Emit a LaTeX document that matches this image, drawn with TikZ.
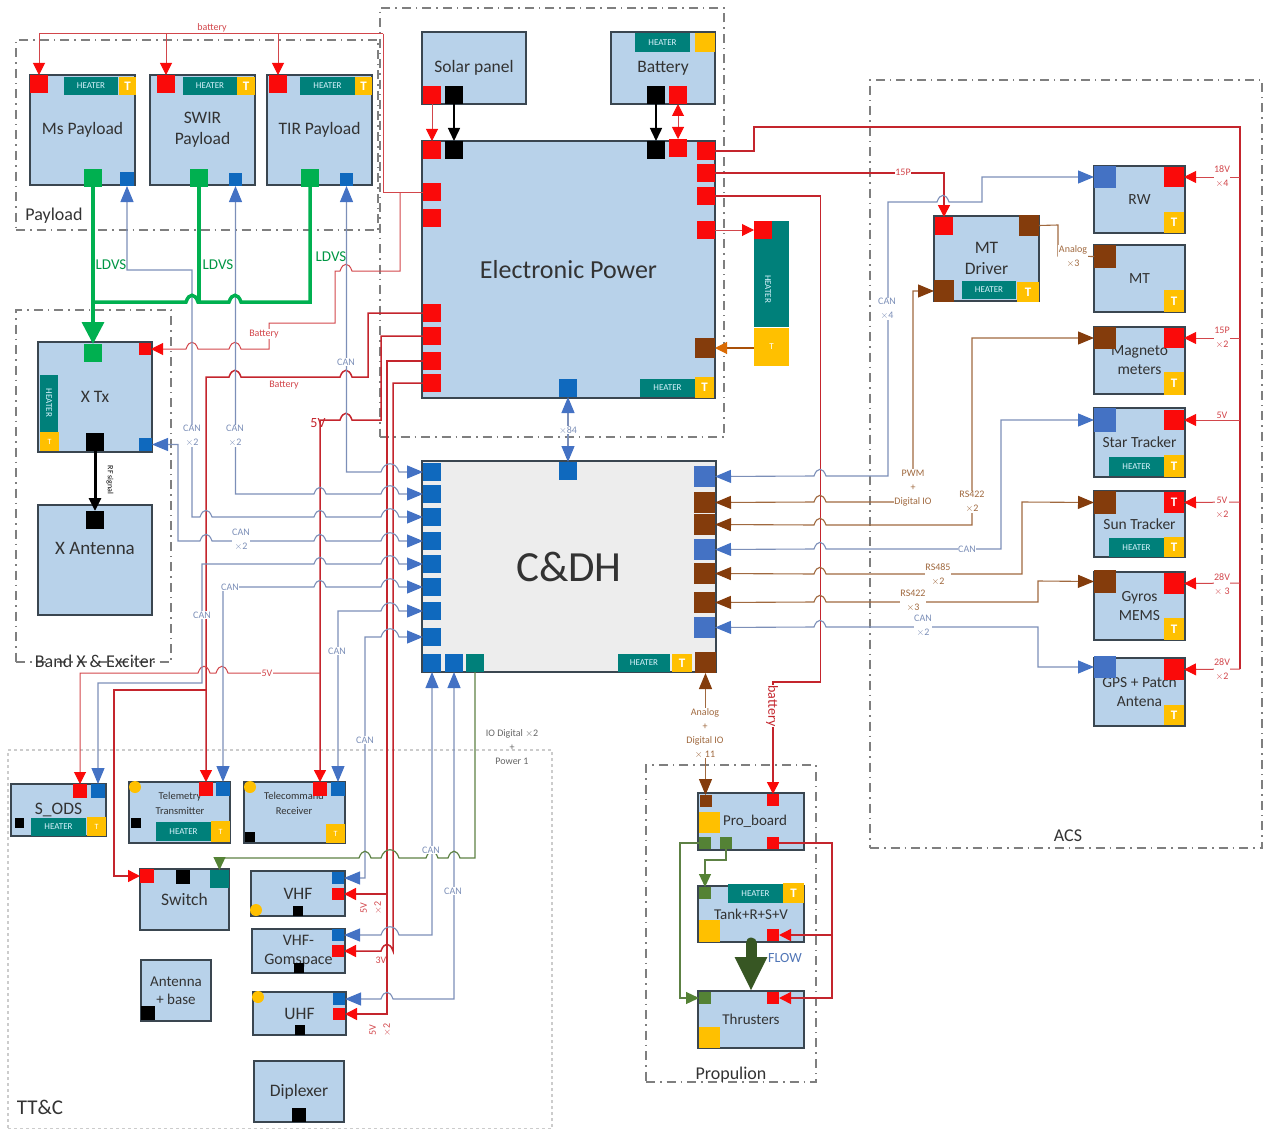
\documentclass[tikz,border=0pt]{standalone}
\usepackage{fontspec}
\setmainfont{Carlito}
\usetikzlibrary{arrows.meta, positioning}

\definecolor{blockblue}{HTML}{B8D2EA}
\definecolor{blockline}{HTML}{3A4650}
\definecolor{cdhgrey}{HTML}{EDEDED}
\definecolor{portred}{HTML}{FA0A0A}
\definecolor{portblue}{HTML}{0F69BE}
\definecolor{lightblue}{HTML}{4472C4}
\definecolor{portbrown}{HTML}{843C0C}
\definecolor{portgreen}{HTML}{00B050}
\definecolor{oldgreen}{HTML}{548235}
\definecolor{darkgreen}{HTML}{375623}
\definecolor{heaterteal}{HTML}{00807A}
\definecolor{tyellow}{HTML}{FFC000}
\definecolor{wirered}{HTML}{D2464B}
\definecolor{wiredark}{HTML}{C4252D}
\definecolor{wireblue}{HTML}{7C8FB8}
\definecolor{wirebrown}{HTML}{A0693F}
\definecolor{groupgrey}{HTML}{7F7F7F}

% wire bump over a crossing line, drawn left to right
\newcommand{\hop}[2]{-- (#1-6,#2) .. controls (#1-3,#2-9) and (#1+3,#2-9) .. (#1+6,#2)}
\newcommand{\hopw}[2]{-- (#1-9,#2) .. controls (#1-6,#2-11) and (#1+6,#2-11) .. (#1+9,#2)}

\begin{document}
\begin{tikzpicture}[x=1pt, y=-1pt,
    wh/.style 2 args={minimum width=#1pt, minimum height=#2pt},
    group/.style={draw=groupgrey, line width=1.1pt, dash pattern=on 9pt off 5pt on 1.5pt off 5pt, anchor=north west, inner sep=0pt, outer sep=0pt},
    grouplabel/.style={text=black!80, font=\fontsize{18}{21}\selectfont, inner sep=0pt},
    block/.style={draw=blockline, fill=blockblue, line width=1.2pt, anchor=north west, align=center, inner sep=0pt, outer sep=0pt, text=black!80, font=\fontsize{17.5}{21}\selectfont},
    acsblock/.style={block, font=\fontsize{15.5}{19}\selectfont},
    propblock/.style={block, font=\fontsize{15}{18}\selectfont},
    blocktext/.style={align=center, inner sep=0pt, text=black!80, font=\fontsize{19}{22}\selectfont},
    port/.style={anchor=north west, inner sep=0pt, outer sep=0pt, minimum size=18pt},
    redport/.style={port, fill=portred},
    blueport/.style={port, fill=portblue},
    lightport/.style={port, fill=lightblue},
    brownport/.style={port, fill=portbrown},
    blackport/.style={port, fill=black},
    greenport/.style={port, fill=portgreen},
    oldport/.style={port, fill=oldgreen, minimum size=12pt},
    tealport/.style={port, fill=heaterteal},
    heater/.style={anchor=north west, fill=heaterteal, inner sep=0pt, outer sep=0pt, text=cyan!15, font=\fontsize{9}{10}\selectfont},
    tsens/.style={anchor=north west, fill=tyellow, inner sep=0pt, outer sep=0pt, text=white, font=\bfseries\fontsize{13}{14}\selectfont},
    yellowdot/.style={circle, fill=tyellow, inner sep=0pt, minimum size=12pt},
    pwr/.style={draw=wirered, line width=1pt, >={Triangle[color=portred, width=12pt, length=12pt]}},
    pwrb/.style={pwr, draw=wiredark, line width=1.5pt},
    can/.style={draw=wireblue, line width=1.1pt, >={Triangle[color=lightblue, width=13pt, length=16pt]}},
    rsline/.style={draw=wirebrown, line width=1.1pt, >={Triangle[color=portbrown, width=13pt, length=16pt]}},
    ioline/.style={draw=oldgreen!80!gray, line width=1.2pt, >={Triangle[color=oldgreen, width=12pt, length=13pt]}},
    ldvs/.style={draw=portgreen, line width=3.5pt, >={Triangle[width=22pt, length=22pt]}},
    rfline/.style={draw=black, line width=1.5pt, >={Triangle[width=12pt, length=13pt]}},
    lab/.style={fill=white, inner sep=0.5pt, align=center, font=\fontsize{10}{14}\selectfont},
    redlab/.style={lab, text=wirered},
    canlab/.style={lab, text=wireblue},
    brownlab/.style={lab, text=wirebrown},
    greenlab/.style={inner sep=0pt, text=portgreen!85!black, font=\fontsize{15}{17}\selectfont}]

    \useasboundingbox (0,0) rectangle (1263,1129);

    % dash-dot subsystem frames
    \node[group, wh={362}{190}] (payload) at (16,40) {};
    \node[group, wh={344}{429}] (eps) at (380,8) {};
    \node[group, wh={155}{352}] (bandx) at (16,310) {};
    \node[group, wh={392}{768}] (acs) at (870,80) {};
    \node[group, wh={170}{317}] (prop) at (646,765) {};
    \node[group, wh={544}{379}, draw=black!20, dash pattern=on 3pt off 3pt] (ttc) at (8,750) {};

    \node[grouplabel] (paylabel) at (54,216) {Payload};
    \node[grouplabel] (bandlabel) at (95,661) {Band X \& Exciter};
    \node[grouplabel] (acslabel) at (1068,836) {ACS};
    \node[grouplabel] (proplabel) at (731,1075) {Propulion};
    \node[grouplabel, font=\fontsize{21}{24}\selectfont] (ttclabel) at (40,1107) {TT\&C};

    % payload
    \node[block, wh={105}{110}] (ms) at (30,75) {Ms Payload};
    \node[block, wh={105}{110}] (swir) [right=15pt of ms] {SWIR\\Payload};
    \node[block, wh={105}{110}] (tir) [right=12pt of swir] {TIR Payload};
    \node[redport] (msR) at (30,75) {};
    \node[heater, wh={54}{18}] (msH) at (64,77) {HEATER};
    \node[tsens, wh={17}{18}] (msT) at (119,77) {T};
    \node[greenport] (msG) at (84,169) {};
    \node[blueport, minimum size=14pt] (msB) at (120,172) {};
    \node[redport] (swiR) at (157,75) {};
    \node[heater, wh={54}{18}] (swiH) at (183,77) {HEATER};
    \node[tsens, wh={18}{18}] (swiT) at (237,77) {T};
    \node[greenport] (swiG) at (190,169) {};
    \node[blueport, minimum size=13pt] (swiB) at (229,173) {};
    \node[redport] (tirR) at (269,75) {};
    \node[heater, wh={55}{18}] (tirH) at (300,77) {HEATER};
    \node[tsens, wh={17}{18}] (tirT) at (355,77) {T};
    \node[greenport] (tirG) at (301,169) {};
    \node[blueport, minimum size=13pt] (tirB) at (340,173) {};

    % band X
    \node[block, wh={114}{110}] (xtx) at (38,342) {X Tx};
    \node[block, wh={114}{110}] (xant) at (38,505) {};
    \node[blocktext] (xanttext) at (95,548) {X Antenna};
    \node[greenport] (xtxG) at (84,344) {};
    \node[redport, minimum size=12pt] (xtxR) at (139,343) {};
    \node[heater, wh={57}{18}, rotate=-90, anchor=center] (xtxH) at (49,403) {HEATER};
    \node[tsens, wh={19}{19}, font=\fontsize{8}{9}\selectfont] (xtxT) at (40,432) {T};
    \node[blackport] (xtxK) at (86,433) {};
    \node[blueport, minimum size=13pt] (xtxB) at (139,438) {};
    \node[blackport] (xantK) at (86,511) {};

    % electronic power
    \node[block, wh={104}{72}] (solar) at (422,32) {Solar panel};
    \node[block, wh={104}{72}] (batt) at (611,32) {Battery};
    \node[block, wh={293}{257}, font=\fontsize{26}{30}\selectfont] (power) at (422,141) {Electronic Power};
    \node[redport] (solR) at (423,86) {};
    \node[blackport] (solK) at (445,86) {};
    \node[heater, wh={55}{19}] (batH) at (635,33) {HEATER};
    \node[tsens, wh={20}{19}] (batT) at (695,33) {};
    \node[blackport] (batK) at (647,86) {};
    \node[redport] (batR) at (669,86) {};
    \node[redport] (epT1) at (423,141) {};
    \node[blackport] (epK1) at (445,141) {};
    \node[blackport] (epK2) at (647,141) {};
    \node[redport] (epT2) at (669,139) {};
    \node[redport] (epR1) at (697,142) {};
    \node[redport] (epR2) at (697,164) {};
    \node[redport] (epR3) at (697,187) {};
    \node[redport] (epR4) at (697,221) {};
    \node[brownport, wh={20}{20}] (epBr) at (695,338) {};
    \node[redport] (epL1) at (423,183) {};
    \node[redport] (epL2) at (423,209) {};
    \node[redport] (epB1) at (423,304) {};
    \node[redport] (epB2) at (423,327) {};
    \node[redport] (epB3) at (423,352) {};
    \node[redport] (epB4) at (423,374) {};
    \node[blueport] (epD) at (559,379) {};
    \node[heater, wh={55}{18}] (epH) at (640,379) {HEATER};
    \node[tsens, wh={19}{21}] (epT) at (695,377) {T};
    \node[heater, wh={35}{106}, anchor=north west] (htr) at (754,221) {};
    \node[heater, rotate=-90] (htrtext) at (771,275) {HEATER};
    \node[tsens, wh={35}{38}, font=\fontsize{9}{10}\selectfont] (htrT) at (754,328) {T};
    \node[redport] (htrR) at (754,221) {};

    % C&DH
    \node[block, wh={294}{211}, fill=cdhgrey, font=\fontsize{43}{48}\selectfont] (cdh) at (422,461) {C\&DH};
    \foreach \name/\ypos in {cdL1/463, cdL2/485, cdL3/508, cdL4/532, cdL5/555, cdL6/578, cdL7/602, cdL8/628}
        \node[blueport] (\name) at (423,\ypos) {};
    \node[blueport] (cdB1) at (423,654) {};
    \node[blueport] (cdB2) at (445,654) {};
    \node[tealport] (cdT) at (466,654) {};
    \node[blueport] (cdD) at (559,462) {};
    \node[heater, wh={52}{18}] (cdH) at (618,654) {HEATER};
    \node[tsens, wh={20}{18}] (cdTs) at (672,654) {T};
    \node[brownport, wh={21}{21}] (cdBr) at (695,652) {};
    \node[lightport, wh={21}{21}] (cdR1) at (694,466) {};
    \node[brownport, wh={21}{21}] (cdR2) at (694,492) {};
    \node[brownport, wh={21}{21}] (cdR3) at (694,514) {};
    \node[lightport, wh={21}{21}] (cdR4) at (694,539) {};
    \node[brownport, wh={21}{21}] (cdR5) at (694,563) {};
    \node[brownport, wh={21}{21}] (cdR6) at (694,592) {};
    \node[lightport, wh={21}{21}] (cdR7) at (694,617) {};

    % ACS
    \node[block, wh={105}{85}] (mtd) at (934,216) {MT\\Driver};
    \node[acsblock, wh={91}{67}] (rw) at (1094,166) {RW};
    \node[acsblock, wh={91}{67}] (mt) [below=12pt of rw] {MT};
    \node[acsblock, wh={91}{67}] (mag) [below=15pt of mt] {Magneto\\meters};
    \node[acsblock, wh={91}{69}] (star) [below=14pt of mag] {Star Tracker};
    \node[acsblock, wh={91}{66}] (sun) [below=14pt of star] {Sun Tracker};
    \node[acsblock, wh={91}{68}] (gyr) [below=15pt of sun] {Gyros\\MEMS};
    \node[acsblock, wh={91}{68}] (gps) [below=18pt of gyr] {GPS + Patch\\Antena};

    \node[redport] (mtdR) at (935,217) {};
    \node[brownport, wh={20}{21}] (mtdB2) at (1019,215) {};
    \node[brownport, wh={20}{22}] (mtdB) at (934,280) {};
    \node[heater, wh={54}{18}] (mtdH) at (962,281) {HEATER};
    \node[tsens, wh={22}{20}] (mtdT) at (1017,282) {T};
    \node[lightport, wh={22}{22}] (rwB) at (1094,166) {};
    \node[redport, wh={20}{20}] (rwR) at (1164,167) {};
    \node[tsens, wh={20}{21}] (rwT) at (1164,212) {T};
    \node[brownport, wh={22}{23}] (mtB) at (1094,245) {};
    \node[tsens, wh={20}{22}] (mtT) at (1164,290) {T};
    \node[brownport, wh={22}{22}] (magB) at (1094,327) {};
    \node[redport, wh={20}{20}] (magR) at (1164,328) {};
    \node[tsens, wh={20}{23}] (magT) at (1164,372) {T};
    \node[lightport, wh={22}{24}] (stB) at (1094,408) {};
    \node[redport, wh={20}{20}] (stR) at (1164,410) {};
    \node[heater, wh={55}{19}] (stH) at (1109,457) {HEATER};
    \node[tsens, wh={20}{22}] (stT) at (1164,455) {T};
    \node[brownport, wh={22}{23}] (sunB) at (1094,491) {};
    \node[tsens, wh={20}{21}, fill=portred] (sunR) at (1164,492) {T};
    \node[heater, wh={55}{19}] (sunH) at (1109,538) {HEATER};
    \node[tsens, wh={20}{20}] (sunT) at (1164,537) {T};
    \node[brownport, wh={22}{23}] (gyrB) at (1094,570) {};
    \node[redport, wh={20}{21}] (gyrR) at (1164,573) {};
    \node[tsens, wh={20}{22}] (gyrT) at (1164,618) {T};
    \node[lightport, wh={22}{22}] (gpsB) at (1094,656) {};
    \node[redport, wh={20}{21}] (gpsR) at (1164,659) {};
    \node[tsens, wh={20}{20}] (gpsT) at (1164,705) {T};

    % propulsion
    \node[propblock, wh={106}{57}] (pro) at (698,793) {\hspace{8pt}Pro\_board};
    \node[propblock, wh={106}{56}] (tank) at (698,886) {Tank+R+S+V};
    \node[propblock, wh={106}{57}] (thr) at (698,991) {Thrusters};
    \node[brownport, minimum size=12pt] (proBr) at (700,795) {};
    \node[redport, minimum size=12pt] (proR) at (767,794) {};
    \node[tsens, wh={21}{21}] (proY) at (699,812) {};
    \node[oldport] (proG1) at (699,837) {};
    \node[oldport] (proG2) at (720,837) {};
    \node[redport, minimum size=12pt] (proR2) at (767,837) {};
    \node[oldport] (tankG) at (699,887) {};
    \node[heater, wh={55}{19}] (tankH) at (728,884) {HEATER};
    \node[tsens, wh={21}{20}] (tankT) at (783,883) {T};
    \node[tsens, wh={21}{22}] (tankY) at (699,920) {};
    \node[redport, minimum size=12pt] (tankR) at (767,929) {};
    \node[oldport] (thrG) at (699,992) {};
    \node[redport, minimum size=12pt] (thrR) at (767,992) {};
    \node[tsens, wh={21}{21}] (thrY) at (699,1027) {};

    % TT&C
    \node[block, wh={95}{52}] (ods) at (11,784) {S\_ODS};
    \node[block, wh={101}{61}] (tlm) at (129,782) {};
    \node[block, wh={101}{61}] (tcm) at (244,782) {};
    \node[blocktext, font=\fontsize{10.5}{15}\selectfont] (tlmtext) at (180,803) {Telemetry\\Transmitter};
    \node[blocktext, font=\fontsize{10.5}{15}\selectfont] (tcmtext) at (294,803) {Telecommand\\Receiver};
    \node[block, wh={89}{61}] (switch) at (140,869) {Switch};
    \node[block, wh={94}{45}] (vhf) at (251,871) {VHF};
    \node[block, wh={93}{44}, font=\fontsize{16}{19}\selectfont] (gom) at (252,929) {VHF-\\Gomspace};
    \node[block, wh={93}{43}] (uhf) at (253,992) {UHF};
    \node[block, wh={70}{61}, font=\fontsize{15}{18}\selectfont] (antb) at (141,960) {Antenna\\+ base};
    \node[block, wh={90}{61}] (dipl) at (254,1061) {Diplexer};

    \node[redport, minimum size=14pt] (odsR) at (73,784) {};
    \node[blueport, minimum size=14pt] (odsB) at (91,784) {};
    \node[blackport, wh={9}{10}] (odsK) at (15,818) {};
    \node[heater, wh={55}{18}] (odsH) at (31,818) {HEATER};
    \node[tsens, wh={19}{19}, font=\fontsize{8}{9}\selectfont] (odsT) at (87,817) {T};
    \node[yellowdot] (tlmY) at (135,787) {};
    \node[redport, minimum size=14pt] (tlmR) at (199,782) {};
    \node[blueport, minimum size=14pt] (tlmB) at (216,782) {};
    \node[blackport, minimum size=10pt] (tlmK) at (131,818) {};
    \node[heater, wh={55}{19}] (tlmH) at (156,822) {HEATER};
    \node[tsens, wh={19}{21}, font=\fontsize{8}{9}\selectfont] (tlmT) at (211,821) {T};
    \node[yellowdot] (tcmY) at (250,787) {};
    \node[redport, minimum size=14pt] (tcmR) at (313,782) {};
    \node[blueport, minimum size=14pt] (tcmB) at (331,782) {};
    \node[blackport, minimum size=10pt] (tcmK) at (245,832) {};
    \node[tsens, wh={19}{19}, font=\fontsize{8}{9}\selectfont] (tcmT) at (326,824) {T};
    \node[redport, minimum size=14pt] (swR) at (140,869) {};
    \node[blackport, minimum size=14pt] (swK) at (176,870) {};
    \node[tealport, wh={19}{18}] (swT) at (210,870) {};
    \node[blueport, minimum size=12pt] (vhfB) at (332,872) {};
    \node[redport, minimum size=12pt] (vhfR) at (332,888) {};
    \node[yellowdot] (vhfY) at (256,910) {};
    \node[blackport, minimum size=10pt] (vhfK) at (293,906) {};
    \node[blueport, minimum size=12pt] (gomB) at (332,929) {};
    \node[redport, minimum size=12pt] (gomR) at (332,945) {};
    \node[blackport, minimum size=10pt] (gomK) at (294,963) {};
    \node[blueport, minimum size=12pt] (uhfB) at (333,993) {};
    \node[redport, minimum size=12pt] (uhfR) at (333,1008) {};
    \node[yellowdot] (uhfY) at (258,997) {};
    \node[blackport, minimum size=10pt] (uhfK) at (295,1025) {};
    \node[blackport, minimum size=14pt] (antK) at (141,1006) {};
    \node[blackport, minimum size=14pt] (diplK) at (292,1108) {};

    % battery bus to the payloads
    \coordinate (batTop) at (383,34);
    \draw[pwr] (epL1.west) -- (383,192) -- (batTop);
    \draw[pwr,->] (batTop) -| (msR.north);
    \draw[pwr,->] (batTop) -| (swiR.north);
    \draw[pwr,->] (batTop) -| (tirR.north);
    \draw[pwr,<-] (xtxR.east) \hop{192}{349} \hop{235}{349} -- (269,349) -- (269,323) -- (335,323) -- (335,271) \hop{346}{271} -- (400,271) -- (400,192);

    % lines from the lower left of power
    \draw[pwrb,<-] (tlmR.north) -- (206,377) \hop{235}{377} \hop{346}{377} -- (368,377) -- (368,313) -- (epB1.west);
    \draw[pwrb,->] (206,690) -- (114,690) -- (114,876) -- (swR.west);
    \draw[pwrb,<-] (tcmR.north) -- (320,420) \hop{346}{420} -- (381,420) -- (381,336) -- (epB2.west);
    \draw[pwr,<-] (odsR.north) -- (80,673) \hop{204}{673} \hop{222}{673} -- (320,673);
    \draw[pwrb,->] (epB3.west) -- (387,361) -- (387,1014) -- (uhfR.east);
    \draw[pwrb,->] (387,894) -- (vhfR.east);
    \draw[pwrb,<-] (gomR.east) -- (381,951) .. controls (384,942) and (390,942) .. (393,951) -- (393,383) -- (epB4.west);

    % CAN into the left of C&DH
    \draw[can,<->] (tirB.south) -- (346.5,472) \hopw{390}{472} -- (cdL1.west);
    \draw[can,<->] (swiB.south) -- (235.5,494) \hop{320}{494} \hopw{390}{494} -- (cdL2.west);
    \draw[can,<->] (msB.south) -- (127,270) -- (192,270) -- (192,517) \hop{206}{517} \hop{320}{517} \hopw{390}{517} -- (cdL3.west);
    \draw[can,<->] (xtxB.east) -- (178,444.5) -- (178,541) \hop{206}{541} \hop{320}{541} \hopw{390}{541} -- (cdL4.west);
    \draw[can,<->] (odsB.north) -- (98,683) -- (202,683) -- (202,564) \hop{320}{564} \hopw{390}{564} -- (cdL5.west);
    \draw[can,<->] (tlmB.north) -- (223,587) \hop{320}{587} \hopw{390}{587} -- (cdL6.west);
    \draw[can,<->] (tcmB.north) -- (338,611) \hopw{390}{611} -- (cdL7.west);
    \draw[can,<->] (vhfB.east) -- (365,878) -- (365,637) \hopw{390}{637} -- (cdL8.west);
    \draw[can,<->] (gomB.east) \hopw{390}{935} -- (432,935) -- (cdB1.south);
    \draw[can,<->] (uhfB.east) \hop{387}{999} -- (454,999) -- (cdB2.south);
    \draw[ioline,<-] (swT.north) -- (219.5,858) \hop{365}{858} \hopw{390}{858} \hop{432}{858} \hop{454}{858} -- (475,858) -- (cdT.south);

    \draw[ldvs,->] (msG.south) -- (xtxG.north);
    \draw[ldvs] (93,302) \hop{192}{302} \hop{235}{302} -- (310,302) -- (tirG.south);
    \draw[ldvs] (swiG.south) -- (199,302);

    \draw[rfline,->, line width=3pt] (xtxK.south) -- (xantK.north);
    \path
        (solK.south) edge[rfline,->] (epK1.north)
        (batK.south) edge[rfline,->] (epK2.north)
        (solR.south) edge[pwr,->] (epT1.north)
        (batR.south) edge[pwr,<->] (epT2.north)
        (epR4.east) edge[pwr,->] (htrR.west)
        (epD.south) edge[can,<->] (cdD.north);
    \draw[rsline,->, draw=portbrown!70!orange, >={Triangle[color=orange!70!portbrown, width=12pt, length=12pt]}] (htrT.west |- epBr.east) -- (epBr.east);

    % right side bus
    \draw[pwrb] (epR1.east) -- (754,151) -- (754,127) -- (1240,127) -- (1240,669);
    \draw[pwrb,->] (epR2.east) -| (mtdR.north);
    \draw[pwrb,->] (epR3.east) -- (820.5,196) -- (820.5,682) -- (773,682) -- (proR.north);
    \path
        (rwR.east) edge[pwr,<-] (1240,177)
        (magR.east) edge[pwr,<-] (1240,338)
        (stR.east) edge[pwr,<-] (1240,420)
        (sunR.east) edge[pwr,<-] (1240,502)
        (gyrR.east) edge[pwr,<-] (1240,583)
        (gpsR.east) edge[pwr,<-] (1240,669);

    % C&DH to the ACS
    \draw[can,<->] (cdR1.east) \hop{820}{476} -- (888,476) -- (888,202) \hop{943}{202} -- (982,202) -- (982,177) -- (rwB.west);
    \draw[rsline,<->] (cdR2.east) \hop{820}{502} -- (913,502) -- (913,291) -- (mtdB.west);
    \draw[rsline,<->] (cdR3.east) \hop{820}{525} -- (972,525) -- (972,338) -- (magB.west);
    \draw[can,<->] (cdR4.east) \hop{820}{549} -- (1001,549) -- (1001,420) -- (stB.west);
    \draw[rsline,<->] (cdR5.east) \hop{820}{574} -- (1022,574) -- (1022,502) -- (sunB.west);
    \draw[rsline,<->] (cdR6.east) \hop{820}{602} -- (1038,602) -- (1038,581) -- (gyrB.west);
    \draw[can,<->] (cdR7.east) \hop{820}{627} -- (1038,627) -- (1038,667) -- (gpsB.west);
    \draw[rsline] (mtdB2.east) -- (1058,225) -- (1058,256) -- (mtB.west);
    \draw[rsline,<->] (cdBr.south) -- (cdBr.south |- proBr.north);

    % propulsion lines
    \draw[pwrb,->] (proR2.east) -- (832,843) -- (832,998) -- (thrR.east);
    \draw[pwrb,->] (832,935) -- (tankR.east);
    \draw[ioline,->] (proG1.west) -- (680,843) -- (680,998) -- (thrG.west);
    \draw[ioline,->] (proG2.south) -- (726,860) -- (705,860) -- (tankG.north);
    \draw[draw=darkgreen, line width=11pt, line cap=round, -{Triangle[color=darkgreen, width=30pt, length=34pt]}] ([yshift=-1pt]tank.south) -- (thr.north);

    % wire labels
    \node[redlab] (batlab1) at (212,28) {battery};
    \node[redlab] (batlab2) at (264,334) {Battery};
    \node[redlab] (batlab3) at (284,385) {Battery};
    \node[inner sep=0pt, text=wiredark, font=\fontsize{14}{16}\selectfont] (fivelab1) at (318,423) {5V};
    \node[redlab] (fivelab2) at (267,673) {5V};
    \node[redlab, fill=none, rotate=90] (fivelab3) at (371,908) {5V\\$\times$2};
    \node[redlab, fill=none] (threelab) at (381,960) {3V};
    \node[redlab, fill=none, rotate=90] (fivelab4) at (380,1030) {5V\\$\times$2};
    \node[redlab] (splab1) at (903,172) {15P};
    \node[redlab] (rwlab) at (1222,177) {18V\\$\times$4};
    \node[redlab] (maglab) at (1222,338) {15P\\$\times$2};
    \node[redlab] (stlab) at (1222,415) {5V};
    \node[redlab] (sunlab) at (1222,508) {5V\\$\times$2};
    \node[redlab] (gyrlab) at (1222,584) {28V\\$\times$ 3};
    \node[redlab] (gpslab) at (1222,669) {28V\\$\times$2};
    \node[inner sep=1pt, fill=white, text=wiredark, rotate=-90, font=\fontsize{14}{16}\selectfont] (batlab4) at (772,706) {battery};

    \node[canlab] (canlab1) at (346,362) {CAN};
    \node[canlab] (canlab2) at (235,436) {CAN\\$\times$2};
    \node[canlab] (canlab3) at (192,436) {CAN\\$\times$2};
    \node[canlab] (canlab4) at (241,540) {CAN\\$\times$2};
    \node[canlab] (canlab5) at (202,615) {CAN};
    \node[canlab] (canlab6) at (230,587) {CAN};
    \node[canlab] (canlab7) at (337,651) {CAN};
    \node[canlab] (canlab8) at (365,740) {CAN};
    \node[canlab] (canlab9) at (431,850) {CAN};
    \node[canlab] (canlab10) at (453,891) {CAN};
    \node[canlab] (canlab11) at (887,309) {CAN\\$\times$4};
    \node[canlab] (canlab12) at (967,549) {CAN};
    \node[canlab] (canlab13) at (923,626) {CAN\\$\times$2};
    \node[canlab] (x84lab) at (568,430) {$\times$84};

    \node[brownlab] (anlab1) at (1073,256) {Analog\\$\times$3};
    \node[brownlab] (pwmlab) at (913,488) {PWM\\+\\Digital IO};
    \node[brownlab] (rslab1) at (972,502) {RS422\\$\times$2};
    \node[brownlab] (rslab2) at (938,574) {RS485\\$\times$2};
    \node[brownlab] (rslab3) at (913,601) {RS422\\$\times$3};
    \node[brownlab] (anlab2) at (705,733) {Analog\\+\\Digital IO\\$\times$ 11};
    \node[brownlab, fill=none, text=black!60] (iolab) at (512,747) {IO Digital $\times$2\\+\\Power 1};

    \node[greenlab] (ldvslab1) at (111,265) {LDVS};
    \node[greenlab] (ldvslab2) at (218,265) {LDVS};
    \node[greenlab] (ldvslab3) at (331,257) {LDVS};
    \node[lab, fill=none, rotate=-90, font=\fontsize{8}{9}\selectfont] (rflab) at (110,480) {RF signal};
    \node[inner sep=0pt, text=lightblue!80!gray, font=\fontsize{14}{16}\selectfont] (flowlab) at (785,958) {FLOW};
\end{tikzpicture}
\end{document}
